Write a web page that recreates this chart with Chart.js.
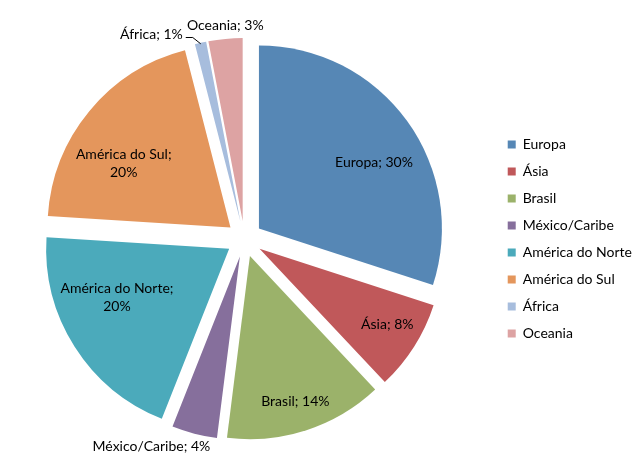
<!DOCTYPE html>
<html>
<head>
<meta charset="utf-8">
<script src="https://cdn.jsdelivr.net/npm/chart.js@4/dist/chart.umd.min.js"></script>
<style>
  html, body { margin: 0; padding: 0; background: #fff; overflow: hidden; }
  #wrap { width: 643px; height: 473px; margin-left: -6px; }
</style>
</head>
<body>
<div id="wrap"><canvas id="pizza"></canvas></div>
<script>
"use strict";

// ── dados ───────────────────────────────────────────────
const regioes = ["Europa", "Ásia", "Brasil", "México/Caribe", "América do Norte", "América do Sul", "África", "Oceania"];
const percentuais = [30, 8, 14, 4, 20, 20, 1, 3];

// ── estilo ──────────────────────────────────────────────
const cores = ["#5687b5", "#c0585a", "#9bb26a", "#866f9c", "#4baabb", "#e4965c", "#a7bddd", "#dda3a3"];
const FONTE = "Lato, 'Liberation Sans', sans-serif";
const TAM = 14;
const EXPLODE = 18;   // afastamento de cada fatia (px)
const RAIO = 183;
// rótulos: distância (fração do raio), ajuste de ângulo (graus), quebra de linha
const rotDist = [0.824, 0.911, 0.932, 1.244, 0.765, 0.779, 1.23, 1.174];
const rotAjuste = [5.3, -1.4, 0.6, 9.7, 7.9, -7.4, -11.8, 0.3];
const rotQuebra = [false, false, false, false, true, true, false, false];

const rad = (g) => g * Math.PI / 180;

// afasta as fatias igualmente (como no Excel)
const explodir = {
  id: "explodir",
  beforeDatasetsDraw(chart) {
    const ca = chart.chartArea;
    const cx = (ca.left + ca.right) / 2, cy = (ca.top + ca.bottom) / 2;
    chart.getDatasetMeta(0).data.forEach((el) => {
      const meio = (el.startAngle + el.endAngle) / 2;
      el.x = cx + Math.cos(meio) * EXPLODE;
      el.y = cy + Math.sin(meio) * EXPLODE;
    });
  },
};

// rótulos "Região; NN%"
const rotulos = {
  id: "rotulos",
  afterDatasetsDraw(chart) {
    const ctx = chart.ctx;
    const ca = chart.chartArea;
    const cx = (ca.left + ca.right) / 2, cy = (ca.top + ca.bottom) / 2;
    ctx.save();
    ctx.font = `${TAM}px ${FONTE}`;
    ctx.fillStyle = "#000";
    ctx.textAlign = "center";
    ctx.textBaseline = "middle";
    chart.getDatasetMeta(0).data.forEach((el, i) => {
      const ang = (el.startAngle + el.endAngle) / 2 + rad(rotAjuste[i]);
      const d = rotDist[i] * el.outerRadius;
      const x = cx + Math.cos(ang) * d, y = cy + Math.sin(ang) * d;
      const linhas = rotQuebra[i]
        ? [regioes[i] + ";", percentuais[i] + "%"]
        : [regioes[i] + "; " + percentuais[i] + "%"];
      const lh = 18;
      linhas.forEach((t, k) => ctx.fillText(t, x, y + (k - (linhas.length - 1) / 2) * lh));
      // linha de chamada da África
      if (regioes[i] === "África") {
        const w = ctx.measureText(linhas[0]).width;
        const meio = (el.startAngle + el.endAngle) / 2;
        const px = el.x + Math.cos(meio) * (el.outerRadius - 1);
        const py = el.y + Math.sin(meio) * (el.outerRadius - 1);
        ctx.beginPath();
        ctx.strokeStyle = "#000";
        ctx.lineWidth = 1;
        ctx.moveTo(x + w / 2 + 3, y + 3.5);
        ctx.lineTo(x + w / 2 + 10, y + 3.5);
        ctx.lineTo(px, py);
        ctx.stroke();
      }
    });
    ctx.restore();
  },
};

new Chart(document.getElementById("pizza"), {
  type: "pie",
  data: {
    labels: regioes,
    datasets: [{
      data: percentuais,
      backgroundColor: cores,
      borderWidth: 0,
      offset: 0,
    }],
  },
  options: {
    responsive: true,
    maintainAspectRatio: false,
    animation: false,
    radius: RAIO,
    layout: { padding: { left: 0, right: -5, top: 5, bottom: 0 } },
    plugins: {
      legend: {
        position: "right",
        labels: {
          boxWidth: 8,
          boxHeight: 8,
          padding: 13,
          color: "#000",
          font: { family: FONTE, size: TAM },
        },
      },
      tooltip: { enabled: false },
    },
  },
  plugins: [explodir, rotulos],
});
</script>
</body>
</html>
